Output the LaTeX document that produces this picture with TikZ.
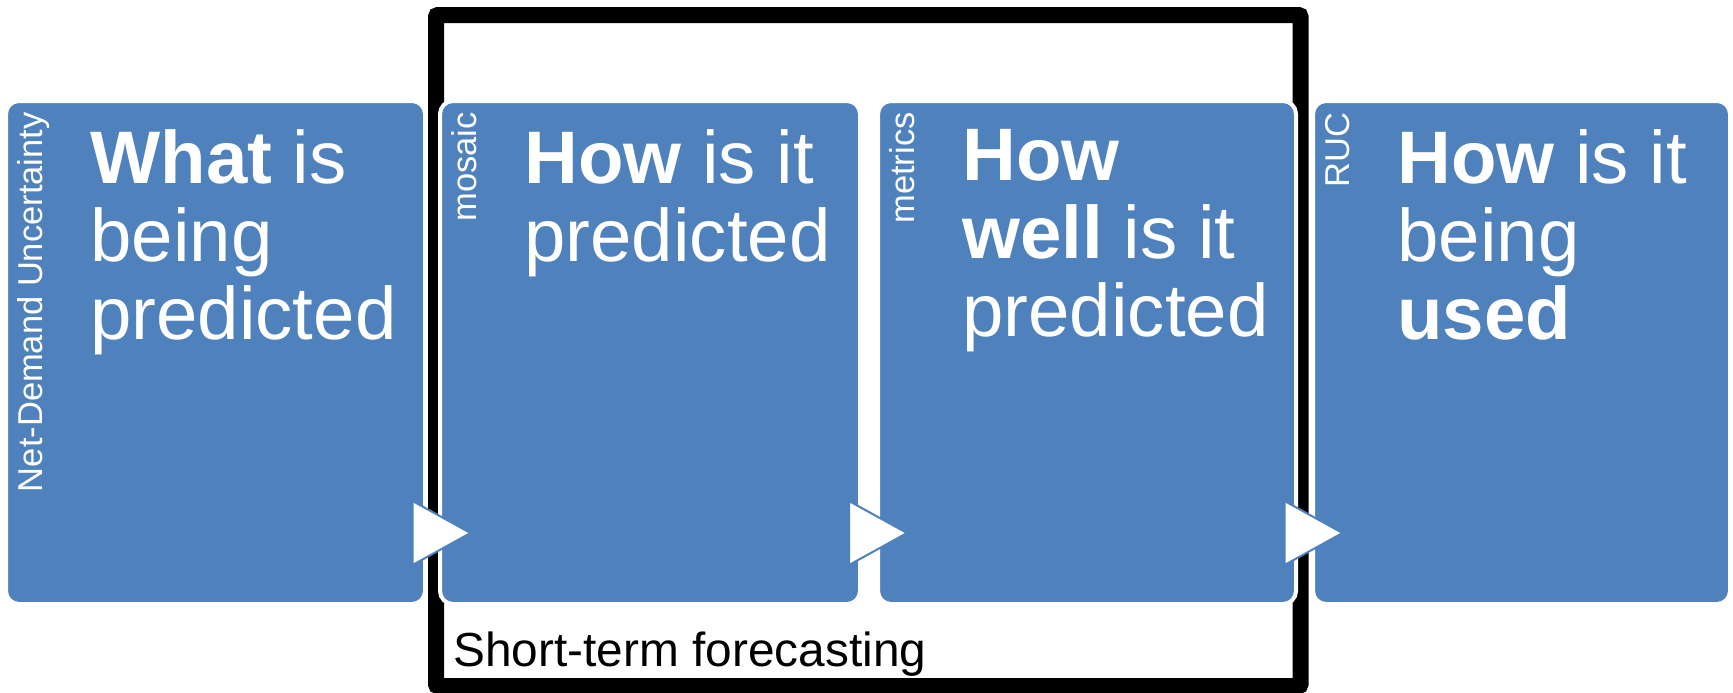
\documentclass[tikz,border=0pt]{standalone}
\usepackage{fontspec}
\setmainfont{Liberation Sans}
\usetikzlibrary{calc}
\definecolor{acc}{HTML}{4F81BD}
\begin{document}
\begin{tikzpicture}[x=0.5pt,y=-0.5pt,
  box/.style={fill=acc,draw=white,line width=2pt,rounded corners=6.5pt,minimum height=251.5pt,outer sep=0pt,inner sep=0pt},
  big/.style={text=white,anchor=north west,align=left,inner sep=0pt,font=\fontsize{37.2pt}{39pt}\selectfont},
  lab/.style={text=white,rotate=90,anchor=base east,inner sep=0pt,font=\fontsize{17.25pt}{20pt}\selectfont},
  tri/.style={fill=white,draw=acc,line width=1pt,line join=miter},
  frame/.style={draw=black,line width=8pt,rounded corners=1pt,minimum width=432.25pt,minimum height=335.5pt,inner sep=0pt,outer sep=0pt}]
\useasboundingbox (0,0) rectangle (1733,692);
% frame
\node[frame] (st) at (868.25,350.5) {};
% boxes
\node[box,minimum width=209.5pt] (b1) at (215.5,352.5) {};
\node[box,minimum width=210pt] (b2) at (650,352.5) {};
\node[box,minimum width=209pt] (b3) at (1087,352.5) {};
\node[box,minimum width=208.5pt] (b4) at (1521.5,352.5) {};
% texts
\node[big] (t1) at ($(b1.north west)+(84,28)$) {\textbf{What} is\\being\\predicted};
\node[big] (t2) at ($(b2.north west)+(84,28)$) {\textbf{How} is it\\predicted};
\node[big] (t3) at ($(b3.north west)+(84,28)$) {\textbf{How}\\\textbf{well} is it\\predicted};
\node[big] (t4) at ($(b4.north west)+(84,28)$) {\textbf{How} is it\\being\\\textbf{used}};
\node[lab] (l1) at ($(b1.north west)+(36,11)$) {Net-Demand Uncertainty};
\node[lab] (l2) at ($(b2.north west)+(36,11)$) {mosaic};
\node[lab] (l3) at ($(b3.north west)+(36,11)$) {metrics};
\node[lab] (l4) at ($(b4.north west)+(36,11)$) {RUC};
% arrows
\coordinate (g1) at ($(b1.east)!0.5!(b2.west)$);
\coordinate (g2) at ($(b2.east)!0.5!(b3.west)$);
\coordinate (g3) at ($(b3.east)!0.5!(b4.west)$);
\foreach \g in {g1,g2,g3}{
  \draw[tri] ($(\g)+(-20,148.5)$) -- ($(\g)+(38,180.5)$) -- ($(\g)+(-20,212.5)$) -- cycle;
}
\node[anchor=base west,inner sep=0pt,font=\fontsize{23.9pt}{28pt}\selectfont] (stl) at (453,666) {Short-term forecasting};
\end{tikzpicture}
\end{document}
